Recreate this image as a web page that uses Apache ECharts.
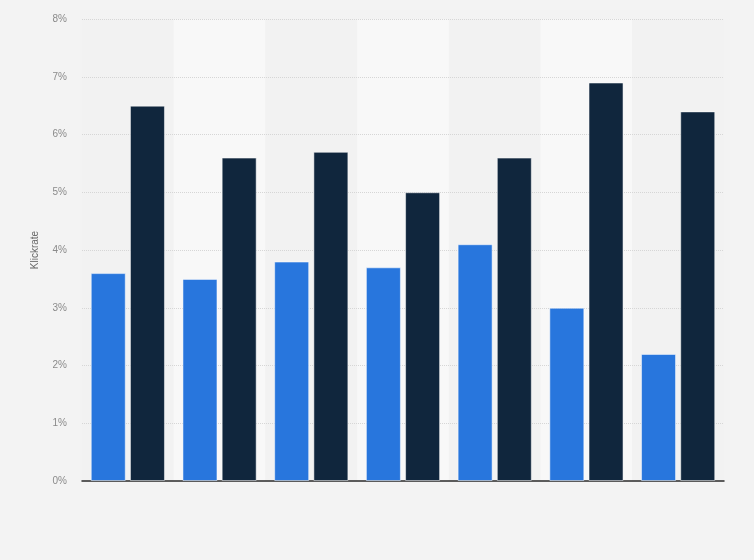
<!DOCTYPE html>
<html><head><meta charset="utf-8">
<script src="https://cdn.jsdelivr.net/npm/echarts@6/dist/echarts.min.js"></script>
<style>html,body{margin:0;padding:0;background:#f3f3f3}#c{width:754px;height:560px}</style>
</head><body><div id="c"></div>
<script>
const categories = ['1','2','3','4','5','6','7'];
const seriesA = [3.6, 3.5, 3.8, 3.7, 4.1, 3.0, 2.2];
const seriesB = [6.5, 5.6, 5.7, 5.0, 5.6, 6.9, 6.4];
const yTicks = [0,1,2,3,4,5,6,7,8];

const chart = echarts.init(document.getElementById('c'));
chart.setOption({
  backgroundColor: '#f3f3f3',
  animation: false,
  grid: {left: 82, right: 30, top: 19, bottom: 79},
  xAxis: {
    type: 'category', data: categories, z: 0,
    axisLine: {lineStyle: {color: '#2a2a2a', width: 1.5}},
    axisTick: {show: false},
    axisLabel: {show: false},
    splitArea: {show: true, areaStyle: {color: ['#f2f2f2', '#f8f8f8']}}
  },
  yAxis: {
    type: 'value', min: yTicks[0], max: yTicks[yTicks.length-1], interval: 1, z: 1,
    name: 'Klickrate', nameLocation: 'middle', nameGap: 42,
    nameTextStyle: {color: '#666', fontSize: 10, fontFamily: 'Arial, Liberation Sans'},
    axisLine: {show: false}, axisTick: {show: false},
    axisLabel: {formatter: v => v + '%', color: '#8a8a8a', fontSize: 10, fontFamily: 'Arial, Liberation Sans', margin: 15},
    splitLine: {showMinLine: false, lineStyle: {color: '#d6d6d6', type: [1, 1]}}
  },
  series: [
    {type: 'bar', data: seriesA, barWidth: 35, barGap: '12%', z: 3,
     itemStyle: {color: '#2876dd', borderColor: 'rgba(255,255,255,0.5)', borderWidth: 1}},
    {type: 'bar', data: seriesB, barWidth: 35, z: 3,
     itemStyle: {color: '#10263d', borderColor: 'rgba(255,255,255,0.5)', borderWidth: 1}}
  ]
});
</script></body></html>
